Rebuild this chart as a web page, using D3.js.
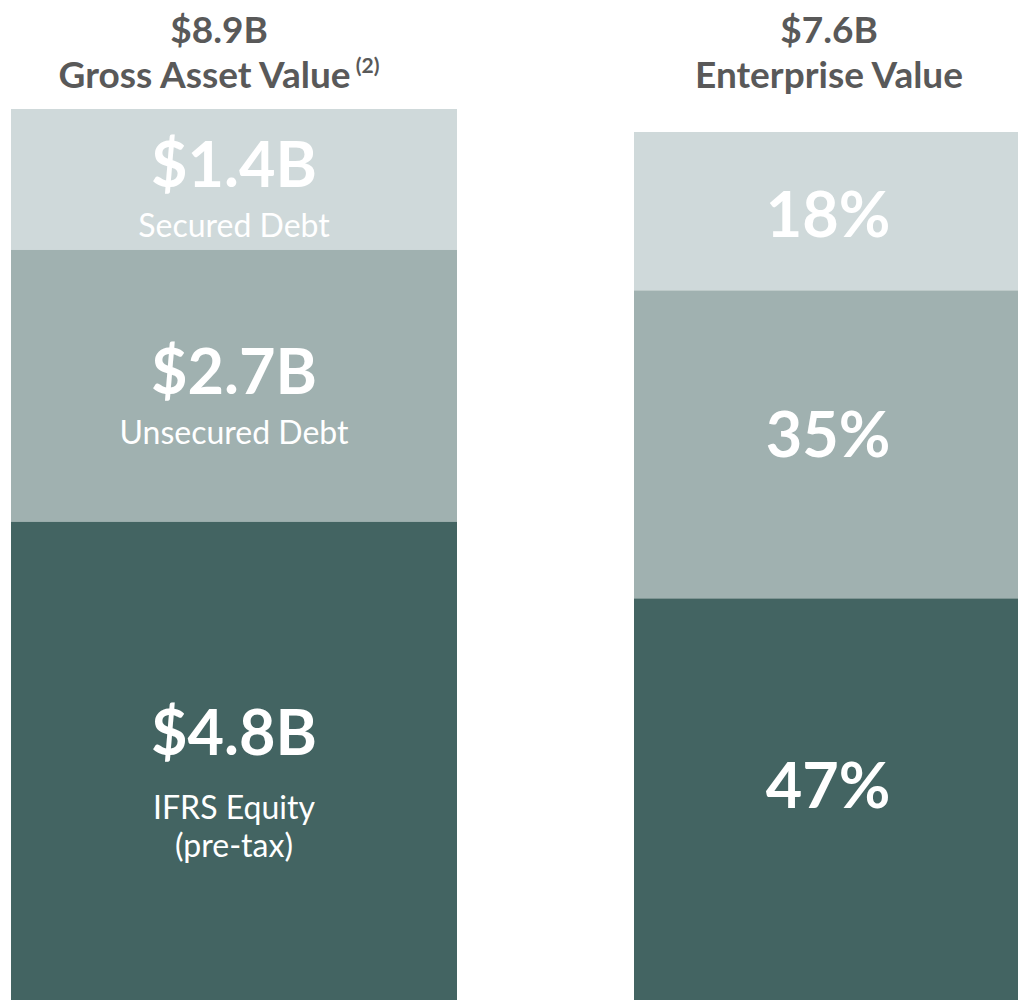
<!DOCTYPE html>
<html>
<head>
<meta charset="utf-8">
<script src="https://cdn.jsdelivr.net/npm/d3@7"></script>
<style>
  body { margin: 0; background: #fff; }
  svg { display: block; font-family: Lato, "Open Sans", sans-serif; }
</style>
</head>
<body>
<script>
// left column: gross asset value split, $B
const gavLabels = ["$1.4B", "$2.7B", "$4.8B"]
const gavValues = [1.4, 2.7, 4.8]
const gavNames = [["Secured Debt"], ["Unsecured Debt"], ["IFRS Equity", "(pre-tax)"]]

// right column: enterprise value split, %
const evShares = [18, 35, 47]

const titleTotals = ["$8.9B", "$7.6B"]
const titleNames = ["Gross Asset Value", "Enterprise Value"]
const titleNotes = ["(2)", ""]

const colors = ["#cfd9da", "#a0b1b0", "#436462"]

const width = 1018
const height = 1000

const svg = d3.select("body").append("svg")
    .attr("width", width)
    .attr("height", height)
    .attr("viewBox", [0, 0, width, height])

// columns have different widths, so keep them as simple lookups
const cols = ["gav", "ev"]
const xLeft = d3.scaleOrdinal(cols, [11, 634])
const barW = d3.scaleOrdinal(cols, [446, 384])
const titleX = d3.scaleOrdinal(cols, [219, 829])

// bars run a little past the bottom edge (cropped like the slide)
const yGav = d3.scaleLinear([0, d3.sum(gavValues)], [1005, 109])
const yEv = d3.scaleLinear([0, d3.sum(evShares)], [1012, 132])

// stack from the top down, so the first item sits on top
function segments(values) {
    const total = d3.sum(values)
    const ends = d3.cumsum(values)
    return values.map((v, i) => ({ i, v, y1: total - ends[i] + v, y0: total - ends[i] }))
}

const gavSegs = segments(gavValues)
const evSegs = segments(evShares)

function drawBars(segs, y, col) {
    svg.append("g")
        .selectAll("rect")
        .data(segs)
        .join("rect")
        .attr("x", xLeft(col))
        .attr("width", barW(col))
        .attr("y", d => y(d.y1))
        .attr("height", d => y(d.y0) - y(d.y1))
        .attr("fill", d => colors[d.i])
}

drawBars(gavSegs, yGav, "gav")
drawBars(evSegs, yEv, "ev")

// labels inside the left bar
const gavCx = xLeft("gav") + barW("gav") / 2
const gl = svg.append("g")
    .attr("fill", "#fff")
    .attr("text-anchor", "middle")
    .selectAll("g")
    .data(gavSegs)
    .join("g")
    .attr("transform", d => {
        const mid = (yGav(d.y0) + yGav(d.y1)) / 2
        const extra = gavNames[d.i].length - 1
        return `translate(${gavCx},${mid + 8 - extra * 16})`
    })

gl.append("text")
    .attr("font-size", 63)
    .attr("font-weight", 700)
    .text(d => gavLabels[d.i])

gl.each(function (d) {
    const lines = gavNames[d.i]
    const gap = lines.length > 1 ? 64 : 50
    d3.select(this).selectAll("text.sub")
        .data(lines)
        .join("text")
        .attr("class", "sub")
        .attr("font-size", 32)
        .attr("y", (l, j) => gap + j * 38)
        .text(l => l)
})

// percentages inside the right bar, sitting a bit above each segment's middle
svg.append("g")
    .attr("fill", "#fff")
    .attr("text-anchor", "middle")
    .attr("font-size", 63)
    .attr("font-weight", 700)
    .selectAll("text")
    .data(evSegs)
    .join("text")
    .attr("x", xLeft("ev") + barW("ev") / 2 + 2)
    .attr("y", d => yEv(d.y1) + 0.41 * (yEv(d.y0) - yEv(d.y1)) + 40)
    .text(d => d.v + "%")

// column titles
const titles = svg.append("g")
    .attr("fill", "#595959")
    .attr("text-anchor", "middle")
    .attr("font-weight", 700)
    .attr("font-size", 37)
    .selectAll("g")
    .data(cols)
    .join("g")
    .attr("transform", c => `translate(${titleX(c)},0)`)

titles.append("text")
    .attr("y", 43)
    .text((c, i) => titleTotals[i])

titles.append("text")
    .attr("y", 88)
    .text((c, i) => titleNames[i])
    .append("tspan")
    .attr("font-size", 21)
    .attr("dy", -15)
    .text((c, i) => titleNotes[i] ? " " + titleNotes[i] : "")
</script>
</body>
</html>
